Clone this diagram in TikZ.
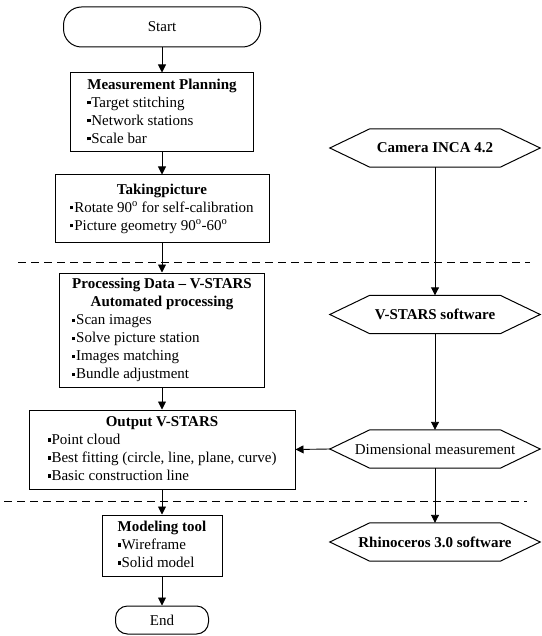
\documentclass[tikz,border=0pt]{standalone}
\usepackage{fontspec}
\setmainfont{Liberation Serif}
\usetikzlibrary{arrows.meta,calc}
\newcommand\bul{\rule[2.6pt]{3.2pt}{3.2pt}\hspace{0.8pt}}
\newcommand\dgr{\textsuperscript{o}}
\newcommand\hexa[1]{\draw[line width=1pt] (#1.west) -- ([xshift=40pt]#1.north west) -- ([xshift=-40pt]#1.north east) -- (#1.east) -- ([xshift=-40pt]#1.south east) -- ([xshift=40pt]#1.south west) -- cycle;}
\begin{document}
\begin{tikzpicture}[x=1pt,y=-1pt,
  font=\fontsize{15}{18}\selectfont,
  box/.style={draw,line width=1pt,inner sep=0pt},
  term/.style={draw,line width=1pt,rounded corners=#1,inner sep=0pt},
  hex/.style={inner sep=0pt,minimum width=210pt,minimum height=38pt},
  arr/.style={line width=0.9pt,-{Triangle[length=8pt,width=8pt]}},
  sep/.style={line width=1pt,dash pattern=on 8pt off 5pt}]
\useasboundingbox[fill=white] (0,0) rectangle (541,636);

% left column
\node[term=18pt,minimum width=197pt,minimum height=40pt] (start) at (162,27) {Start};
\node[box,minimum width=183pt,minimum height=79pt] (mp) at (162,112.5)
  {\begin{tabular}{@{}l@{}}\multicolumn{1}{@{}c@{}}{\textbf{Measurement Planning}}\\
   \bul Target stitching\\ \bul Network stations\\ \bul Scale bar\end{tabular}};
\node[box,minimum width=214pt,minimum height=67pt] (tp) at (162,208.5)
  {\begin{tabular}{@{}l@{}}\multicolumn{1}{@{}c@{}}{\textbf{Takingpicture}}\\
   \bul Rotate 90\dgr{} for self-calibration\\ \bul Picture geometry 90\dgr-60\dgr\end{tabular}};
\node[box,minimum width=205pt,minimum height=114pt] (pd) at (162,330)
  {\begin{tabular}{@{}l@{}}\multicolumn{1}{@{}c@{}}{\textbf{Processing Data -- V-STARS}}\\
   \multicolumn{1}{@{}c@{}}{\textbf{Automated processing}}\\
   \bul Scan images\\ \bul Solve picture station\\ \bul Images matching\\ \bul Bundle adjustment\end{tabular}};
\node[box,minimum width=266pt,minimum height=79pt] (out) at (162,449.5)
  {\begin{tabular}{@{}l@{}}\multicolumn{1}{@{}c@{}}{\textbf{Output V-STARS}}\\
   \bul Point cloud\\ \bul Best fitting (circle, line, plane, curve)\\ \bul Basic construction line\end{tabular}};
\node[box,minimum width=120pt,minimum height=61pt] (mod) at (162,545.5)
  {\begin{tabular}{@{}l@{}}\multicolumn{1}{@{}c@{}}{\textbf{Modeling tool}}\\
   \bul Wireframe\\ \bul Solid model\end{tabular}};
\node[term=12pt,minimum width=93pt,minimum height=28pt] (end) at (162,620) {End};

% right column
\node[hex] (cam) at (435,148) {\textbf{Camera INCA 4.2}};
\node[hex] (vs) at (435,314.5) {\textbf{V-STARS software}};
\node[hex] (dim) at (435,449) {Dimensional measurement};
\node[hex] (rh) at (435,542) {\textbf{Rhinoceros 3.0 software}};
\hexa{cam}\hexa{vs}\hexa{dim}\hexa{rh}

% separators
\coordinate (s1a) at (18,262); \coordinate (s1b) at (530,262);
\coordinate (s2a) at (4,501);  \coordinate (s2b) at (527,501);
\draw[sep] (s1a) -- (s1b);
\draw[sep] (s2a) -- (s2b);

% connectors
\draw[arr] (start) -- (mp);
\draw[arr] (mp) -- (tp);
\draw[arr] (tp) -- (pd);
\draw[arr] (pd) -- (out);
\draw[arr] (out) -- (mod);
\draw[arr] (mod) -- (end);
\draw[arr] (cam) -- (vs);
\draw[arr] (vs) -- (dim);
\draw[arr] (dim) -- (rh);
\draw[arr] (dim.west) -- (out.east);
\end{tikzpicture}
\end{document}
